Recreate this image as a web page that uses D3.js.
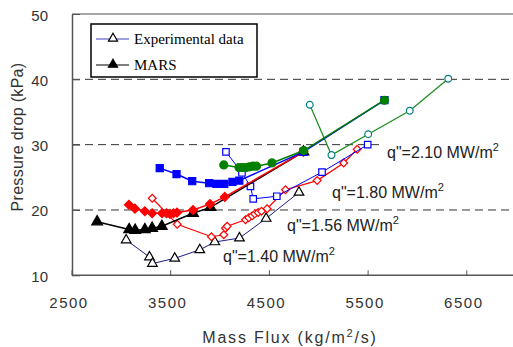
<!DOCTYPE html>
<html>
<head>
<meta charset="utf-8">
<script src="https://cdn.jsdelivr.net/npm/d3@7"></script>
<style>
body{margin:0;background:#fff;}
svg{display:block;}
.tick text{fill:#333;}
</style>
</head>
<body>
<div id="chart"></div>
<script>
// q"=1.40 MW/m2
var expFlux140=[3054,3290,3320,3546,3800,3952,4202,4472,4805];
var expDp140=[15.4,12.8,11.8,12.6,13.9,15.1,15.7,18.7,22.7];
var marsFlux140=[2760,3084,3145,3243,3317,3415,3731,3908,4850];
var marsDp140=[18.2,17.0,16.9,17.0,17.2,17.5,19.5,20.4,28.9];
// q"=1.56 MW/m2
var expFlux156=[3318,3571,3918,4043,4060,4077,4263,4296,4330,4357,4391,4425,4482,4668,4989,5258,5394];
var expDp156=[21.8,17.8,15.9,16.2,17.2,17.5,18.5,18.8,19.1,19.4,19.6,19.8,20.2,23.1,24.5,27.2,29.3];
var marsFlux156=[3082,3143,3243,3317,3417,3462,3498,3533,3569,3731,3903,4053,4850];
var marsDp156=[20.8,20.2,19.8,19.5,19.5,19.5,19.4,19.5,19.6,20.0,20.9,22.0,28.9];
// q"=1.80 MW/m2
var expFlux180=[4065,4227,4313,4341,4580,5038,5501];
var expDp180=[28.9,25.7,23.6,21.7,22.1,25.8,30.0];
var marsFlux180=[3394,3564,3723,3895,3969,4048,4131,4200,4850,5671];
var marsDp180=[26.4,25.5,24.4,24.1,24.0,24.0,24.3,24.5,28.9,36.8];
// q"=2.10 MW/m2
var expFlux210=[4914,5134,5506,5927,6317];
var expDp210=[36.1,28.4,31.6,35.2,40.1];
var marsFlux210=[4043,4197,4232,4268,4303,4339,4374,4531,4853,5671];
var marsDp210=[26.9,26.5,26.5,26.5,26.6,26.7,26.7,27.2,29.1,36.8];

var xTicks=[2500,3500,4500,5500,6500];
var yTicks=[10,20,30,40,50];
var gridLines=[20,30,40];
var heatLabels=["1.40","1.56","1.80","2.10"];

var wide=513;
var high=347;
var svg=d3
  .select("#chart")
  .append("svg")
  .attr("width",wide)
  .attr("height",high);

var xscale=d3.scaleLinear().domain([2500,7000]).range([71.5,71.5+4500*0.0987]);
var yscale=d3.scaleLinear().domain([10,50]).range([275.3,14]);

function zip(xs,ys){
  return xs.map(function(x,i){return {x:x,y:ys[i]};});
}

// dashed grid
svg.selectAll("line.grid")
  .data(gridLines)
  .enter()
  .append("line")
  .attr("class","grid")
  .attr("x1",72)
  .attr("x2",wide)
  .attr("y1",function(d){return yscale(d);})
  .attr("y2",function(d){return yscale(d);})
  .attr("stroke","#333")
  .attr("stroke-width",1)
  .attr("stroke-dasharray","8,5");

// top frame line
svg.append("line")
  .attr("x1",72).attr("x2",wide)
  .attr("y1",yscale(50)).attr("y2",yscale(50))
  .attr("stroke","#888")
  .attr("stroke-width",1.5);

var xaxis=d3.axisBottom(xscale).tickValues(xTicks).tickSizeInner(-5).tickSizeOuter(0).tickPadding(22).tickFormat(d3.format("d"));
var yaxis=d3.axisLeft(yscale).tickValues(yTicks).tickSizeInner(-8).tickSizeOuter(0).tickPadding(24).tickFormat(d3.format("d"));

var gx=svg.append("g")
  .attr("transform","translate(0,"+yscale(10)+")")
  .call(xaxis);
gx.select(".domain").attr("stroke","#555").attr("stroke-width",1.5).attr("d","M72,0H"+wide);
gx.selectAll(".tick line").attr("stroke","#555");
gx.selectAll(".tick text")
  .attr("font-family","Liberation Sans, Arial, sans-serif")
  .attr("font-size",15)
  .attr("letter-spacing","1.5px")
  .attr("dx",-3);

var gy=svg.append("g")
  .attr("transform","translate(72,0)")
  .call(yaxis);
gy.select(".domain").attr("stroke","#555").attr("stroke-width",1.5);
gy.selectAll(".tick line").attr("stroke","#555");
gy.selectAll(".tick text")
  .attr("font-family","Liberation Sans, Arial, sans-serif")
  .attr("font-size",15)
  .attr("dy","0.4em");

// axis titles
var xt=svg.append("text")
  .attr("x",290)
  .attr("y",343)
  .attr("text-anchor","middle")
  .attr("font-family","Liberation Sans, Arial, sans-serif")
  .attr("font-size",16)
  .attr("letter-spacing","1.8px")
  .attr("fill","#333");
xt.append("tspan").text("Mass Flux (kg/m");
xt.append("tspan").attr("dy",-6).attr("font-size",11).text("2");
xt.append("tspan").attr("dy",6).text("/s)");

svg.append("text")
  .attr("transform","translate(23,137)rotate(-90)")
  .attr("text-anchor","middle")
  .attr("font-family","Liberation Sans, Arial, sans-serif")
  .attr("font-size",16)
  .attr("letter-spacing","0.3px")
  .attr("fill","#333")
  .text("Pressure drop (kPa)");

var line=d3.line()
  .x(function(d){return xscale(d.x);})
  .y(function(d){return yscale(d.y);});

function series(pts,lineColor,lineWidth,shape,size,fill,stroke,rot){
  var g=svg.append("g");
  g.append("path")
    .datum(pts)
    .attr("d",line)
    .attr("fill","none")
    .attr("stroke",lineColor)
    .attr("stroke-width",lineWidth);
  g.selectAll("path.pt")
    .data(pts)
    .enter()
    .append("path")
    .attr("class","pt")
    .attr("d",d3.symbol().type(shape).size(size))
    .attr("transform",function(d){
      return "translate("+xscale(d.x)+","+yscale(d.y)+")"+(rot?"rotate(45)":"");
    })
    .attr("fill",fill)
    .attr("stroke",stroke)
    .attr("stroke-width",1.2);
}

// experimental
series(zip(expFlux140,expDp140),"#1c1c8c",1,d3.symbolTriangle,40,"#fff","#000",false);
series(zip(expFlux156,expDp156),"#ff0000",1.2,d3.symbolSquare,30,"#fff","#ff0000",true);
series(zip(expFlux180,expDp180),"#0000ff",1,d3.symbolSquare,42,"#fff","#0000ff",false);
series(zip(expFlux210,expDp210),"#1a8c1a",1.2,d3.symbolCircle,36,"#fff","#008080",false);

// MARS
series(zip(marsFlux140,marsDp140),"#000",1.5,d3.symbolTriangle,50,"#000","#000",false);
series(zip(marsFlux156,marsDp156),"#ff0000",1.5,d3.symbolSquare,40,"#ff0000","#ff0000",true);
series(zip(marsFlux180,marsDp180),"#0000ff",1.5,d3.symbolSquare,50,"#0000ff","#0000ff",false);
series(zip(marsFlux210,marsDp210),"#008000",1.5,d3.symbolCircle,50,"#008000","#008000",false);

// heat flux labels
var labelPos=[[223,262],[287,231],[332,198],[387,158]];
heatLabels.forEach(function(q,i){
  if (i===3){
    // label box hides the 30 kPa grid line on the right
    svg.append("rect")
      .attr("x",labelPos[i][0]-6).attr("y",labelPos[i][1]-15)
      .attr("width",wide-labelPos[i][0]+6).attr("height",21)
      .attr("fill","#fff");
  }
  var t=svg.append("text")
    .attr("x",labelPos[i][0])
    .attr("y",labelPos[i][1])
    .attr("font-family","Liberation Sans, Arial, sans-serif")
    .attr("font-size",16)
    .attr("fill","#222");
  t.append("tspan").text("q\"="+q+" MW/m");
  t.append("tspan").attr("dy",-7).attr("font-size",11).text("2");
});

// legend
var leg=svg.append("g");
leg.append("rect")
  .attr("x",91).attr("y",24)
  .attr("width",166).attr("height",53)
  .attr("fill","#fff")
  .attr("stroke","#000")
  .attr("stroke-width",1.5);
var legItems=[
  {name:"Experimental data",y:39,color:"#4040c0",fill:"#fff"},
  {name:"MARS",y:65,color:"#000",fill:"#000"}
];
legItems.forEach(function(d){
  leg.append("line")
    .attr("x1",96).attr("x2",129)
    .attr("y1",d.y).attr("y2",d.y)
    .attr("stroke",d.color)
    .attr("stroke-width",1.2);
  leg.append("path")
    .attr("d",d3.symbol().type(d3.symbolTriangle).size(36))
    .attr("transform","translate(113,"+(d.y-0.5)+")")
    .attr("fill",d.fill)
    .attr("stroke","#000")
    .attr("stroke-width",1.2);
  leg.append("text")
    .attr("x",134)
    .attr("y",d.y+5)
    .attr("font-family","Liberation Serif, Times New Roman, serif")
    .attr("font-size",15)
    .attr("fill","#000")
    .text(d.name);
});
</script>
</body>
</html>
